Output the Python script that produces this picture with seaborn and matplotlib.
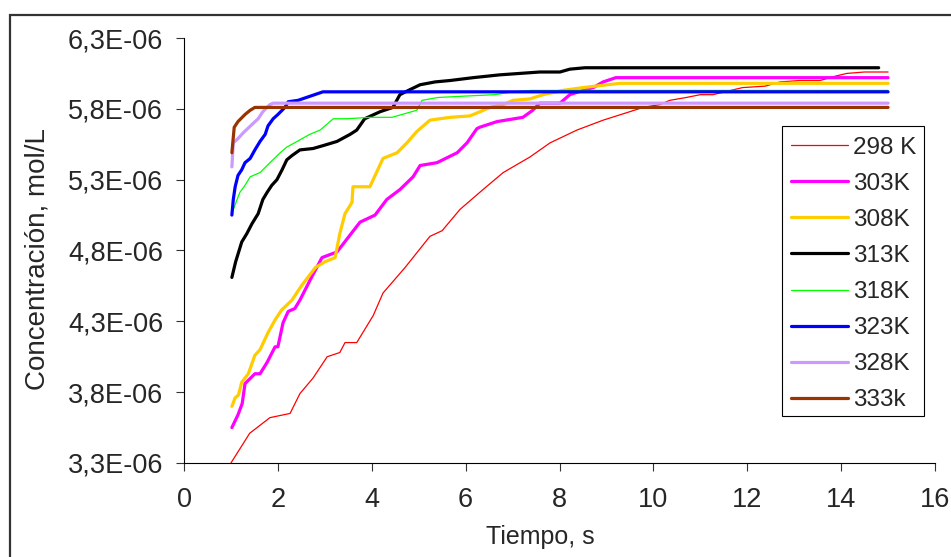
import numpy as np
import pandas as pd
import matplotlib
matplotlib.use('Agg')
import matplotlib.pyplot as plt
import matplotlib.ticker as ticker
from matplotlib.patches import Rectangle
import seaborn as sns

sns.set_style('white')
plt.rcParams['font.family'] = ['Liberation Sans', 'DejaVu Sans']

# tiempo (s) y concentración (x1e-6 mol/L) para cada temperatura
t298 = [1.0, 1.4, 1.83, 2.26, 2.47, 2.75, 3.05, 3.32, 3.43, 3.68, 4.03, 4.24, 4.71, 5.24, 5.5, 5.88,
        6.37, 6.8, 7.37, 7.8, 8.37, 8.93, 9.5, 9.78, 10.14, 10.35, 10.7, 11.0, 11.27, 11.9, 12.38,
        12.7, 13.12, 13.55, 13.87, 14.12, 14.5, 15.0]
c298 = [3.30, 3.51, 3.62, 3.65, 3.79, 3.90, 4.05, 4.08, 4.15, 4.15, 4.34, 4.50, 4.68, 4.90, 4.94, 5.09,
        5.23, 5.35, 5.46, 5.56, 5.65, 5.72, 5.78, 5.81, 5.83, 5.86, 5.88, 5.90, 5.90, 5.95, 5.96,
        5.99, 6.00, 6.00, 6.03, 6.05, 6.06, 6.06]

t303 = [1.02, 1.15, 1.24, 1.30, 1.51, 1.62, 1.77, 1.94, 2.0, 2.11, 2.22, 2.36, 2.47, 2.7, 2.94, 3.26,
        3.54, 3.75, 4.07, 4.32, 4.6, 4.88, 5.03, 5.39, 5.82, 6.03, 6.24, 6.3, 6.67, 7.22, 7.43, 7.58,
        8.01, 8.22, 8.5, 8.72, 8.93, 9.2, 15.0]
c303 = [3.55, 3.64, 3.72, 3.86, 3.93, 3.93, 4.01, 4.12, 4.12, 4.29, 4.37, 4.39, 4.45, 4.60, 4.75, 4.79,
        4.91, 5.00, 5.05, 5.16, 5.23, 5.32, 5.40, 5.42, 5.49, 5.56, 5.66, 5.67, 5.71, 5.74, 5.79, 5.84,
        5.84, 5.90, 5.93, 5.95, 5.99, 6.02, 6.02]

t308 = [1.02, 1.09, 1.16, 1.23, 1.37, 1.51, 1.62, 1.79, 1.94, 2.08, 2.3, 2.5, 2.8, 3.0, 3.22, 3.32,
        3.43, 3.58, 3.6, 3.96, 4.24, 4.54, 4.75, 4.96, 5.24, 5.67, 6.09, 6.31, 6.52, 6.8, 7.01, 7.37,
        7.65, 8.07, 8.5, 9.29, 15.0]
c308 = [3.70, 3.76, 3.78, 3.87, 3.93, 4.06, 4.10, 4.22, 4.31, 4.38, 4.45, 4.55, 4.68, 4.72, 4.75, 4.92,
        5.06, 5.14, 5.25, 5.25, 5.45, 5.49, 5.56, 5.64, 5.72, 5.74, 5.75, 5.78, 5.81, 5.83, 5.86, 5.87,
        5.90, 5.93, 5.95, 5.98, 5.98]

t313 = [1.02, 1.1, 1.23, 1.34, 1.45, 1.58, 1.68, 1.77, 1.87, 1.98, 2.09, 2.19, 2.3, 2.47, 2.75, 2.96,
        3.26, 3.54, 3.68, 3.85, 4.18, 4.45, 4.6, 4.78, 5.03, 5.35, 5.67, 6.16, 6.73, 7.58, 8.01, 8.22,
        8.54, 14.8]
c313 = [4.61, 4.72, 4.86, 4.92, 4.99, 5.06, 5.16, 5.21, 5.26, 5.30, 5.37, 5.44, 5.47, 5.51, 5.52, 5.54,
        5.57, 5.62, 5.65, 5.73, 5.78, 5.81, 5.90, 5.93, 5.97, 5.99, 6.00, 6.02, 6.04, 6.06, 6.06, 6.08,
        6.09, 6.09]

t318 = [1.02, 1.13, 1.19, 1.3, 1.41, 1.62, 1.83, 2.05, 2.19, 2.41, 2.68, 2.9, 3.18, 3.47, 3.96, 4.43,
        4.96, 5.07, 5.41, 5.99, 6.62, 7.01, 7.41, 15.0]
c318 = [5.06, 5.16, 5.21, 5.26, 5.32, 5.35, 5.42, 5.49, 5.53, 5.57, 5.62, 5.65, 5.73, 5.73, 5.74, 5.74,
        5.79, 5.86, 5.88, 5.89, 5.90, 5.92, 5.93, 5.93]

t323 = [1.02, 1.05, 1.09, 1.15, 1.23, 1.3, 1.41, 1.51, 1.62, 1.73, 1.79, 1.9, 2.0, 2.15, 2.22, 2.43,
        2.96, 15.0]
c323 = [5.05, 5.16, 5.25, 5.33, 5.37, 5.42, 5.45, 5.51, 5.57, 5.62, 5.68, 5.73, 5.76, 5.81, 5.85, 5.86,
        5.92, 5.92]

t328 = [1.02, 1.05, 1.15, 1.26, 1.45, 1.58, 1.68, 1.83, 1.9, 15.0]
c328 = [5.39, 5.56, 5.59, 5.63, 5.69, 5.73, 5.78, 5.83, 5.84, 5.84]

t333 = [1.02, 1.07, 1.15, 1.3, 1.41, 1.51, 15.0]
c333 = [5.49, 5.67, 5.71, 5.76, 5.79, 5.81, 5.81]

series = [
    ('298 K', t298, c298, '#FF0000', 0.9),
    ('303K', t303, c303, '#FF00FF', 2.3),
    ('308K', t308, c308, '#FFCC00', 2.3),
    ('313K', t313, c313, '#000000', 2.3),
    ('318K', t318, c318, '#00FF00', 0.9),
    ('323K', t323, c323, '#0000FF', 2.3),
    ('328K', t328, c328, '#CC99FF', 2.3),
    ('333k', t333, c333, '#993300', 2.3),
]

fig = plt.figure(figsize=(9.51, 5.57), dpi=100)
ax = fig.add_axes([184 / 951, 1 - 463 / 557, 751 / 951, 425 / 557])

for name, t, c, col, lw in series:
    df = pd.DataFrame({'t': t, 'c': np.array(c) * 1e-6})
    sns.lineplot(data=df, x='t', y='c', color=col, lw=lw, label=name, ax=ax,
                 estimator=None, sort=False)

ax.set_xlim(0, 16)
ax.set_ylim(3.3e-6, 6.3e-6)
ax.set_xticks(np.arange(0, 17, 2))
ax.set_yticks(np.arange(3.3e-6, 6.31e-6, 0.5e-6))
ax.yaxis.set_major_formatter(ticker.FuncFormatter(lambda v, pos: f'{v:.1E}'.replace('.', ',')))

for s in ['top', 'right']:
    ax.spines[s].set_visible(False)
for s in ['left', 'bottom']:
    ax.spines[s].set_color('black')
    ax.spines[s].set_linewidth(0.8)

ax.tick_params(axis='y', direction='out', length=6, width=0.8, color='#333333', pad=9, labelsize=19.5, left=True)
ax.tick_params(axis='x', direction='out', length=6, width=0.8, color='#333333', pad=11, labelsize=19.5, bottom=True)

ax.set_xlabel('Tiempo, s', fontsize=18)
ax.set_ylabel('Concentración, mol/L', fontsize=20)
ax.xaxis.set_label_coords(0.474, -0.147)
ax.yaxis.set_label_coords(-0.178, 0.48)

# caja de la leyenda dibujada aparte
ax.add_patch(Rectangle((0.796, 0.111), 0.189, 0.682, transform=ax.transAxes,
                       facecolor='white', edgecolor='black', linewidth=0.8, zorder=4.5))
leg = ax.legend(loc='upper left', bbox_to_anchor=(0.797, 0.788), borderaxespad=0, fontsize=17.5,
                frameon=False, handlelength=2.35, handletextpad=0.2, labelspacing=0.58, borderpad=0.35)
leg.set_zorder(5)

# marco exterior del gráfico
fig.patches.append(Rectangle((10 / 951, -0.1), 1.2, 1.1 - 15 / 557, transform=fig.transFigure,
                             fill=False, edgecolor='#333333', linewidth=1.6))

fig.savefig('out.png', dpi=100)
